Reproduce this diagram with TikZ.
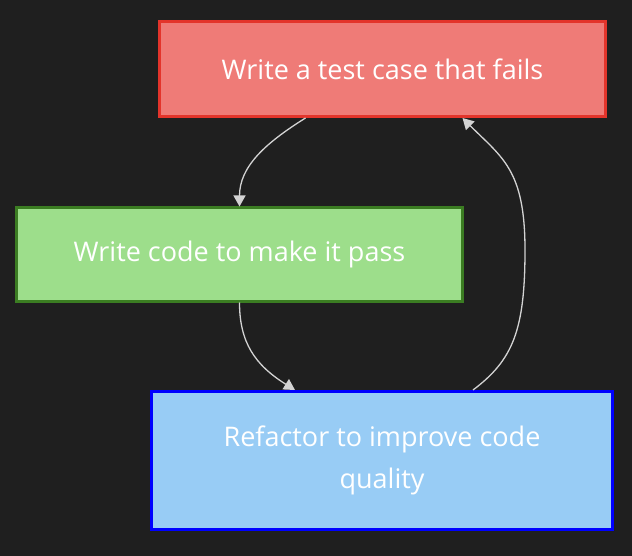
\documentclass[tikz,border=0pt]{standalone}
\usepackage{fontspec}
\setmainfont{Open Sans}
\usetikzlibrary{arrows.meta}
\definecolor{bgdark}{HTML}{1F1F1F}
\definecolor{redfill}{HTML}{EF7B77}
\definecolor{redline}{HTML}{E3342B}
\definecolor{greenfill}{HTML}{9DDE8B}
\definecolor{greenline}{HTML}{3B7D22}
\definecolor{bluefill}{HTML}{98CCF5}
\definecolor{blueline}{HTML}{0000FF}
\definecolor{linkgray}{HTML}{D3D3D3}
\begin{document}
\begin{tikzpicture}[x=1pt,y=-1pt,
	stepnode/.style={draw, line width=3pt, text=white, align=center, inner sep=0pt,
		font=\fontsize{27}{42}\selectfont},
	link/.style={draw=linkgray, line width=1.3pt, -{Triangle[width=12pt,length=11pt]}}]
	\fill[bgdark] (0,0) rectangle (632,556);
	\useasboundingbox (0,0) rectangle (632,556);
	\node[stepnode, fill=redfill, draw=redline, minimum width=446pt, minimum height=95pt] (fail) at (382.5,69) {Write a test case that fails};
	\node[stepnode, fill=greenfill, draw=greenline, minimum width=446pt, minimum height=93pt] (pass) at (239.5,254.5) {Write code to make it pass};
	\node[stepnode, fill=bluefill, draw=blueline, minimum width=461pt, minimum height=138pt] (refactor) at (382,460.5) {Refactor to improve code\\quality};
	\draw[link] ([xshift=-77pt]fail.south) .. controls ++(-40,25) and ++(0,-40) .. (pass.north);
	\draw[link] (pass.south) .. controls ++(0,40) and ++(-40,-25) .. ([xshift=-87pt]refactor.north);
	\draw[link] ([xshift=91pt]refactor.north) .. controls ++(40,-30) and ++(0,80) .. (525,250) .. controls ++(0,-80) and ++(40,40) .. ([xshift=80pt]fail.south);
\end{tikzpicture}
\end{document}
